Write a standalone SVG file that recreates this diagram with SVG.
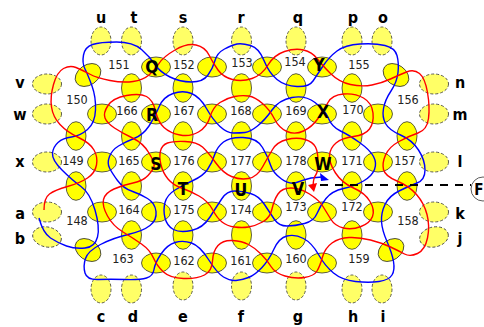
<svg xmlns="http://www.w3.org/2000/svg" width="484" height="327" viewBox="0 0 484 327">
<style>
.h{fill:#ffff00;stroke:#333;stroke-width:.8}
.p{fill:#ffff66;stroke:#333;stroke-width:.8;stroke-dasharray:3 2}
.c{fill:none;stroke-width:1.4}
.n{font:12.5px "DejaVu Sans Condensed","DejaVu Sans",sans-serif;fill:#222;text-anchor:middle}
.l{font:bold 16px "DejaVu Sans Condensed","DejaVu Sans",sans-serif;fill:#000;text-anchor:middle}
.u{font-size:17.5px}
</style>
<rect width="484" height="327" fill="#fff"/>
<g id="outer-helices" class="p">
<ellipse cx="101" cy="41" rx="10" ry="14"/><ellipse cx="131.5" cy="41" rx="10" ry="14"/><ellipse cx="183" cy="41" rx="10" ry="14"/><ellipse cx="241.5" cy="41" rx="10" ry="14"/><ellipse cx="296" cy="41" rx="10" ry="14"/><ellipse cx="352" cy="41" rx="10" ry="14"/><ellipse cx="382" cy="41" rx="10" ry="14"/>
<ellipse cx="47" cy="84" rx="14.5" ry="10"/><ellipse cx="47" cy="114" rx="14.5" ry="10"/><ellipse cx="47" cy="162" rx="14.5" ry="10"/><ellipse cx="47" cy="212" rx="14.5" ry="10"/><ellipse cx="47" cy="237" rx="14.5" ry="10" transform="rotate(12 47 237)"/>
<ellipse cx="434" cy="84" rx="14.5" ry="10"/><ellipse cx="434" cy="114" rx="14.5" ry="10"/><ellipse cx="434" cy="162" rx="14.5" ry="10"/><ellipse cx="434" cy="212" rx="14.5" ry="10"/><ellipse cx="434" cy="237" rx="14.5" ry="10" transform="rotate(-12 434 237)"/>
<ellipse cx="101" cy="289" rx="10" ry="14"/><ellipse cx="131.5" cy="289" rx="10" ry="14"/><ellipse cx="183" cy="286" rx="10" ry="14"/><ellipse cx="241.5" cy="286" rx="10" ry="14"/><ellipse cx="296" cy="286" rx="10" ry="14"/><ellipse cx="352" cy="289" rx="10" ry="14"/><ellipse cx="382" cy="289" rx="10" ry="14"/>
</g>
<g id="inner-helices" class="h">
<ellipse cx="88" cy="75" rx="14" ry="10" transform="rotate(-35 88 75)"/><ellipse cx="396" cy="75" rx="14" ry="10" transform="rotate(35 396 75)"/><ellipse cx="88" cy="250" rx="14" ry="10" transform="rotate(35 88 250)"/><ellipse cx="391" cy="250" rx="14" ry="10" transform="rotate(-35 391 250)"/>
<ellipse cx="156" cy="67" rx="14.5" ry="10"/><ellipse cx="212" cy="67" rx="14.5" ry="10"/><ellipse cx="267" cy="67" rx="14.5" ry="10"/><ellipse cx="322" cy="67" rx="14.5" ry="10"/>
<ellipse cx="131.5" cy="88" rx="10" ry="14.3"/><ellipse cx="183" cy="88" rx="10" ry="14.3"/><ellipse cx="241.5" cy="88" rx="10" ry="14.3"/><ellipse cx="296" cy="88" rx="10" ry="14.3"/><ellipse cx="352" cy="88" rx="10" ry="14.3"/>
<ellipse cx="102" cy="114" rx="14.5" ry="10"/><ellipse cx="156" cy="114" rx="14.5" ry="10"/><ellipse cx="212" cy="114" rx="14.5" ry="10"/><ellipse cx="267" cy="114" rx="14.5" ry="10"/><ellipse cx="322" cy="114" rx="14.5" ry="10"/><ellipse cx="378" cy="114" rx="14.5" ry="10"/>
<ellipse cx="76" cy="136" rx="10" ry="14.3"/><ellipse cx="131.5" cy="136" rx="10" ry="14.3"/><ellipse cx="183" cy="136" rx="10" ry="14.3"/><ellipse cx="241.5" cy="136" rx="10" ry="14.3"/><ellipse cx="296" cy="136" rx="10" ry="14.3"/><ellipse cx="352" cy="136" rx="10" ry="14.3"/><ellipse cx="407" cy="136" rx="10" ry="14.3"/>
<ellipse cx="102" cy="162" rx="14.5" ry="10"/><ellipse cx="156" cy="162" rx="14.5" ry="10"/><ellipse cx="212" cy="162" rx="14.5" ry="10"/><ellipse cx="267" cy="162" rx="14.5" ry="10"/><ellipse cx="322" cy="162" rx="14.5" ry="10"/><ellipse cx="378" cy="162" rx="14.5" ry="10"/>
<ellipse cx="76" cy="186" rx="10" ry="14.3"/><ellipse cx="131.5" cy="186" rx="10" ry="14.3"/><ellipse cx="183" cy="186" rx="10" ry="14.3"/><ellipse cx="241.5" cy="186" rx="10" ry="14.3"/><ellipse cx="296" cy="186" rx="10" ry="14.3"/><ellipse cx="352" cy="186" rx="10" ry="14.3"/><ellipse cx="407" cy="186" rx="10" ry="14.3"/>
<ellipse cx="102" cy="212" rx="14.5" ry="10"/><ellipse cx="156" cy="212" rx="14.5" ry="10"/><ellipse cx="212" cy="212" rx="14.5" ry="10"/><ellipse cx="267" cy="212" rx="14.5" ry="10"/><ellipse cx="322" cy="212" rx="14.5" ry="10"/><ellipse cx="378" cy="212" rx="14.5" ry="10"/>
<ellipse cx="131.5" cy="235" rx="10" ry="14.3"/><ellipse cx="183" cy="235" rx="10" ry="14.3"/><ellipse cx="241.5" cy="235" rx="10" ry="14.3"/><ellipse cx="296" cy="235" rx="10" ry="14.3"/><ellipse cx="352" cy="235" rx="10" ry="14.3"/>
<ellipse cx="156" cy="263" rx="14.5" ry="10"/><ellipse cx="212" cy="263" rx="14.5" ry="10"/><ellipse cx="267" cy="263" rx="14.5" ry="10"/><ellipse cx="322" cy="263" rx="14.5" ry="10"/>
</g>
<g id="connectors">
<path class="c" stroke="#0000ff" d="M39,218 Q43,233 50.5,238 Q58,243 66.5,246 Q75,249 85,248 Q95,247 97.5,237 Q100,227 95,210 Q90,193 81,186.5 Q72,180 62,170 Q52,160 52.5,153.5 Q53,147 58,142.5 Q63,138 71.5,137 Q80,136 87.5,129.5 Q95,123 95.5,110 Q96,97 92,86 Q88,75 85,69 Q82,63 83.5,55 Q85,47 92.5,44.5 Q100,42 116.5,42 Q133,42 141.5,49.5 Q150,57 155,64.5 Q160,72 170,77 Q180,82 191.5,82 Q203,82 208,75 Q213,68 215,60.5 Q217,53 224.5,49 Q232,45 237,44 Q242,43 250.5,45.5 Q259,48 264,60.5 Q269,73 277,79.5 Q285,86 297,86.5 Q309,87 313,81 Q317,75 323,66 Q329,57 337,51 Q345,45 360,44 Q375,43 385,45.5 Q395,48 397,55.5 Q399,63 398,72.5 Q397,82 391,91 Q385,100 383.5,108.5 Q382,117 385.5,123.5 Q389,130 400.5,135 Q412,140 418.5,150 Q425,160 425,170 Q425,180 417,183 Q409,186 399,191 Q389,196 385,204.5 Q381,213 381.5,221.5 Q382,230 387,241.5 Q392,253 393.5,261.5 Q395,270 392,275 Q389,280 379,281.5 Q369,283 355.5,281.5 Q342,280 333.5,273 Q325,266 318.5,254.5 Q312,243 303.5,238.5 Q295,234 287,236 Q279,238 274,249 Q269,260 262,267.5 Q255,275 248.5,277.5 Q242,280 236,280.5 Q230,281 223.5,277 Q217,273 208.5,259.5 Q200,246 191.5,243 Q183,240 175,242.5 Q167,245 161,254 Q155,263 154,269.5 Q153,276 146.5,278 Q140,280 125,279.5 Q110,279 98.5,279.5 Q87,280 85,273 Q83,266 85.5,258.5 Q88,251 100.5,244.5 Q113,238 128,234.5 Q143,231 150,225.5 Q157,220 156,211.5 Q155,203 147.5,198.5 Q140,194 131.5,191 Q123,188 117.5,180.5 Q112,173 109.5,168 Q107,163 109.5,156.5 Q112,150 118.5,146 Q125,142 134,138.5 Q143,135 149,126 Q155,117 159,107 Q163,97 173,93.5 Q183,90 191.5,93.5 Q200,97 206.5,108.5 Q213,120 220,126.5 Q227,133 233.5,133 Q240,133 245,132.5 Q250,132 257.5,126 Q265,120 272,110 Q279,100 292,97.5 Q305,95 315,102.5 Q325,110 328.5,118.5 Q332,127 340.5,131 Q349,135 359.5,142.5 Q370,150 373.5,156.5 Q377,163 374.5,169.5 Q372,176 363.5,181 Q355,186 343.5,188.5 Q332,191 326,198.5 Q320,206 317,213.5 Q314,221 304.5,223.5 Q295,226 287,226 Q279,226 274.5,219.5 Q270,213 264.5,204.5 Q259,196 250.5,193.5 Q242,191 234.5,191 Q227,191 222,198.5 Q217,206 210,217 Q203,228 191.5,230.5 Q180,233 173.5,229.5 Q167,226 165,218 Q163,210 165,202.5 Q167,195 175,190 Q183,185 193,180.5 Q203,176 207.5,169.5 Q212,163 214.5,155 Q217,147 223.5,142 Q230,137 243,137.5 Q257,138 262.5,147.5 Q268,157 270.5,165 Q273,173 281.5,179 Q290,185 296.5,182.5 Q303,180 311,178 L322,177"/>
<path class="c" stroke="#ff0000" d="M44,210 Q44,198 49.5,194 Q55,190 67.5,186.5 Q80,183 87.5,178 Q95,173 96.5,165 Q98,157 94,150 Q90,143 78.5,137.5 Q67,132 60,124.5 Q53,117 51.5,107 Q50,97 53.5,84.5 Q57,72 63.5,68.5 Q70,65 76,67.5 Q82,70 89.5,74 Q97,78 110,80.5 Q123,83 133,81.5 Q143,80 149,75 Q155,70 159,63.5 Q163,57 175,50 Q187,43 196,45 Q205,47 209,55 Q213,63 218,70 Q223,77 232.5,79.5 Q242,82 252,78.5 Q262,75 268,65 Q274,55 284.5,51.5 Q295,48 303.5,50 Q312,52 317,58.5 Q322,65 330.5,73.5 Q339,82 350.5,84.5 Q362,87 372,85 Q382,83 390.5,79 Q399,75 406.5,72 Q414,69 419.5,73.5 Q425,78 427.5,92.5 Q430,107 428.5,118.5 Q427,130 418,133 Q409,136 399,141.5 Q389,147 385.5,155 Q382,163 383.5,169.5 Q385,176 397,181 Q409,186 416.5,194.5 Q424,203 427,214.5 Q430,226 427.5,238 Q425,250 417.5,253.5 Q410,257 404.5,254 Q399,251 390.5,247 Q382,243 370.5,240 Q359,237 349,237.5 Q339,238 332,243 Q325,248 322.5,257 Q320,266 317,271 Q314,276 304.5,277.5 Q295,279 285,276 Q275,273 271,266.5 Q267,260 261,254 Q255,248 248.5,244.5 Q242,241 232.5,240.5 Q223,240 218,245.5 Q213,251 212.5,261 Q212,271 204.5,275 Q197,279 183.5,278.5 Q170,278 163.5,272 Q157,266 153.5,258 Q150,250 141.5,244 Q133,238 123,232 Q113,226 107.5,216 Q102,206 103.5,199.5 Q105,193 114,189 Q123,185 133,183 Q143,181 148,175.5 Q153,170 154,166.5 Q155,163 149,153 Q143,143 132.5,138 Q122,133 114.5,128 Q107,123 105,118 Q103,113 108,105.5 Q113,98 126.5,95.5 Q140,93 146.5,96.5 Q153,100 155.5,111 Q158,122 164,127.5 Q170,133 180,135 Q190,137 198.5,132 Q207,127 210,117 Q213,107 220,102.5 Q227,98 234.5,96.5 Q242,95 248.5,96 Q255,97 262.5,103.5 Q270,110 274.5,119 Q279,128 287,131.5 Q295,135 303.5,131 Q312,127 318,118.5 Q324,110 328,102.5 Q332,95 343.5,94 Q355,93 363.5,98 Q372,103 373,113 Q374,123 369.5,129 Q365,135 353.5,136.5 Q342,138 336,143 Q330,148 329.5,155.5 Q329,163 335.5,173 Q342,183 353.5,188 Q365,193 370,201.5 Q375,210 372.5,216.5 Q370,223 361,226.5 Q352,230 343.5,228 Q335,226 331,219.5 Q327,213 323,206.5 Q319,200 309.5,194 Q300,188 291,188 Q282,188 278,194 Q274,200 272,209 Q270,218 262.5,222 Q255,226 248.5,227 Q242,228 234.5,227 Q227,226 222,222 Q217,218 212.5,209.5 Q208,201 199,196 Q190,191 181.5,188 Q173,185 168,179 Q163,173 161,165 Q159,157 160.5,151 Q162,145 167.5,143 Q173,141 185,141.5 Q197,142 202.5,147 Q208,152 215.5,162.5 Q223,173 231.5,176.5 Q240,180 248.5,178.5 Q257,177 262.5,167 Q268,157 272.5,149.5 Q277,142 287,139.5 Q297,137 305,139.5 Q313,142 315.5,147 Q318,152 318,162 Q318,172 316,174.5 Q314,177 313.5,181 L313,186"/>
<polygon points="320,173 321,181 329,180" fill="#0000ff"/>
<polygon points="308,185 317,183 314,192" fill="#ff0000"/>
<line x1="320" y1="185" x2="471" y2="185" stroke="#000" stroke-width="2" stroke-dasharray="8 7"/>
</g>
<g id="F"><circle cx="483" cy="189" r="12" fill="#fff" stroke="#333" stroke-width=".8"/><text class="l" x="483.5" y="194.5" style="text-anchor:end;font-size:15px">F</text></g>
<g id="numbers" class="n">
<text x="119" y="69">151</text><text x="184" y="69">152</text><text x="242" y="67">153</text><text x="295" y="66">154</text><text x="359" y="69">155</text>
<text x="77" y="104">150</text><text x="408" y="104">156</text>
<text x="127" y="115">166</text><text x="184" y="115">167</text><text x="241" y="115">168</text><text x="296" y="115">169</text><text x="353" y="114">170</text>
<text x="73" y="165">149</text><text x="129" y="165">165</text><text x="184" y="165">176</text><text x="241" y="165">177</text><text x="296" y="165">178</text><text x="352" y="165">171</text><text x="405" y="165">157</text>
<text x="77" y="225">148</text><text x="129" y="214">164</text><text x="184" y="214">175</text><text x="241" y="214">174</text><text x="296" y="211">173</text><text x="352" y="211">172</text><text x="408" y="225">158</text>
<text x="123" y="263">163</text><text x="184" y="265">162</text><text x="241" y="265">161</text><text x="296" y="263">160</text><text x="359" y="263">159</text>
</g>
<g id="letters" class="l">
<text x="101" y="23">u</text><text x="134" y="23">t</text><text x="183" y="23">s</text><text x="241" y="23">r</text><text x="298" y="23">q</text><text x="353" y="23">p</text><text x="383" y="23">o</text>
<text x="20" y="88">v</text><text x="20" y="120">w</text><text x="20" y="167">x</text><text x="20" y="219">a</text><text x="20" y="244">b</text>
<text x="460" y="88">n</text><text x="460" y="120">m</text><text x="460" y="167">l</text><text x="460" y="219">k</text><text x="460" y="244">j</text>
<text x="101" y="322">c</text><text x="133" y="322">d</text><text x="183" y="322">e</text><text x="241" y="322">f</text><text x="298" y="322">g</text><text x="353" y="322">h</text><text x="383" y="322">i</text>
<text class="u" x="152" y="73">Q</text><text class="u" x="152" y="121">R</text><text class="u" x="156" y="170">S</text><text class="u" x="183" y="195">T</text><text class="u" x="241" y="196">U</text><text class="u" x="298" y="195">V</text><text class="u" x="323" y="170">W</text><text class="u" x="323" y="118">X</text><text class="u" x="319" y="71">Y</text>
</g>
</svg>
